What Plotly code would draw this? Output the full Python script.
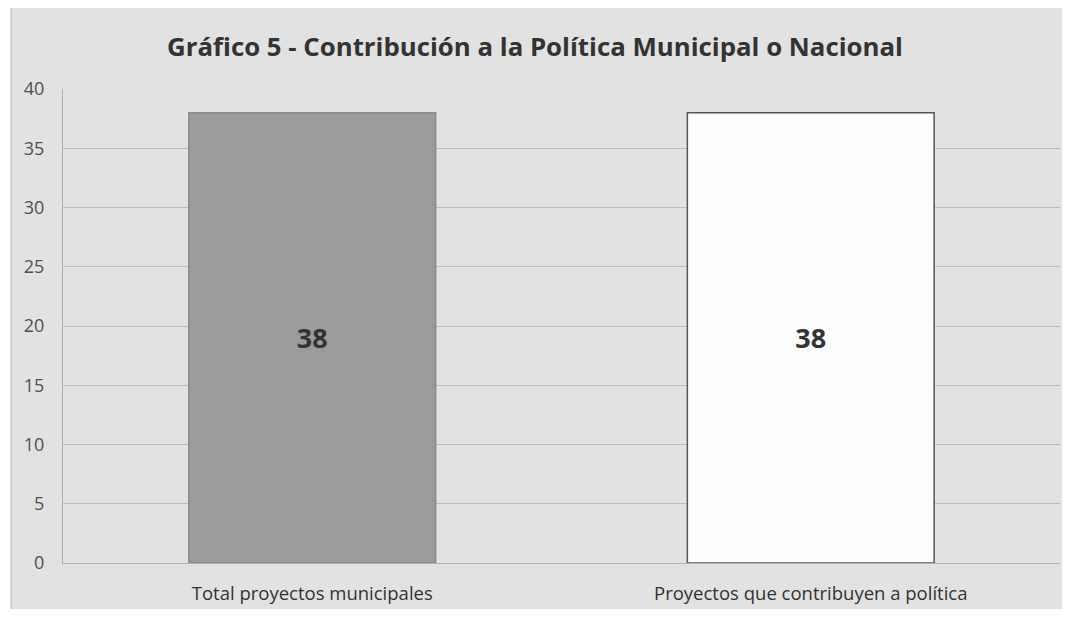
import plotly.graph_objects as go

categories = ["Total proyectos municipales", "Proyectos que contribuyen a política"]
values = [38, 38]
bar_colors = ["#9b9b9b", "#fdfdfd"]
line_colors = ["#8a8a8a", "#555555"]
y_ticks = [0, 5, 10, 15, 20, 25, 30, 35, 40]
title = "Gráfico 5 - Contribución a la Política Municipal o Nacional"

OFF = 8  # page body margin
W, H = 1070 - 2 * OFF, 617 - 2 * OFF
L = 63 - OFF
PR = min(1065 - OFF, W - 2)
T = 89 - OFF
PB = 563 - OFF
R = W - PR
B = H - PB
pw, ph = PR - L, PB - T

def px_x(x):
    return (x - OFF - L) / pw

def px_y(y):
    return (PB - (y - OFF)) / ph

fig = go.Figure()
fig.add_trace(go.Bar(
    x=categories, y=values,
    marker=dict(color=bar_colors, line=dict(color=line_colors, width=1.5)),
    text=[str(v) for v in values], textposition="inside", insidetextanchor="middle",
    textfont=dict(family="Open Sans", size=27, color="#333333"),
    texttemplate="<b>%{text}</b>",
    hoverinfo="skip",
))

# chart area background
x0, x1, y0, y1 = px_x(11), px_x(1067), px_y(6), px_y(613)
fig.add_shape(type="rect", xref="paper", yref="paper", x0=x0, x1=x1, y0=y1, y1=y0,
              fillcolor="#e2e2e2", line=dict(color="#b8b8b8", width=1), layer="below")

fig.update_layout(
    width=W, height=H,
    margin=dict(l=L, r=R, t=T, b=B, pad=0),
    paper_bgcolor="white",
    plot_bgcolor="#e2e2e2",
    bargap=0.505,
    showlegend=False,
    title=dict(text="<b>" + title + "</b>", x=0.5, xanchor="center", y=1 - (47 - OFF) / H, yanchor="middle",
               font=dict(family="Open Sans", size=25.8, color="#333333")),
    font=dict(family="Open Sans", color="#404040"),
)
fig.update_yaxes(range=[0, 40], tickvals=y_ticks, showgrid=True, gridcolor="#bdbdbd", gridwidth=1,
                 zeroline=False, showline=True, linecolor="#b0b0b0",
                 tickfont=dict(size=18, color="#505050"), ticks="", ticklabelstandoff=14)
fig.update_xaxes(showgrid=False, showline=True, linecolor="#b0b0b0",
                 tickfont=dict(size=18.5, color="#333333"), ticks="", ticklabelstandoff=14)

fig.write_html("out.html")
